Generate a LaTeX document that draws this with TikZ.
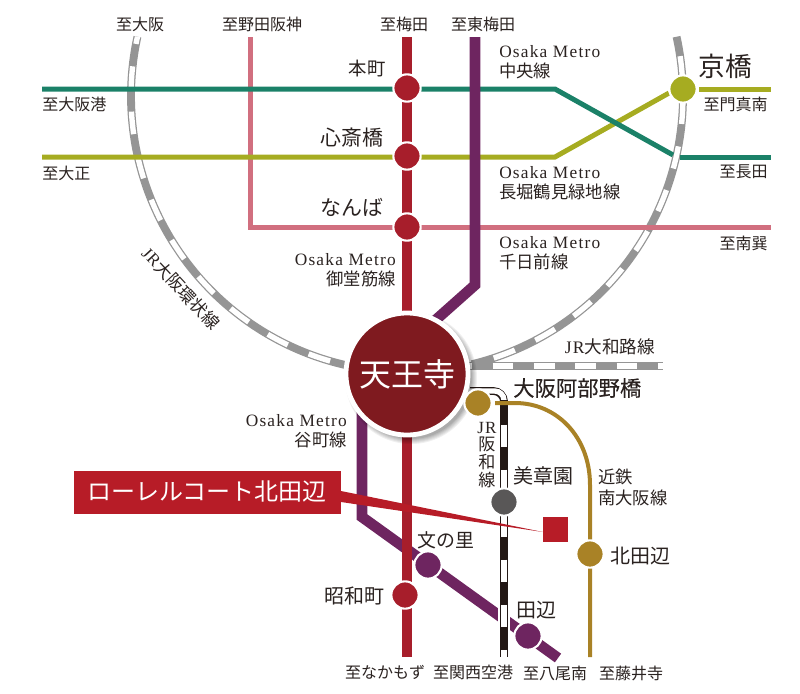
\documentclass[tikz,border=0pt]{standalone}
\usepackage{fontspec}
\setmainfont[LetterSpace=7]{Liberation Serif}
\newfontfamily\jp{Noto Sans CJK JP}
\newfontfamily\jpb[FakeBold=0.25]{Noto Sans CJK JP}
\definecolor{ink}{HTML}{2A2220}
\definecolor{midored}{HTML}{A71E2B}
\definecolor{purp}{HTML}{6E2560}
\definecolor{greenl}{HTML}{1B8168}
\definecolor{olive}{HTML}{A6AC21}
\definecolor{pinkl}{HTML}{D16F7F}
\definecolor{goldl}{HTML}{A98226}
\definecolor{jrgray}{HTML}{959595}
\definecolor{brick}{HTML}{B71C27}
\definecolor{tenno}{HTML}{7F1A1F}
\definecolor{grayst}{HTML}{595757}
\definecolor{rail}{HTML}{231815}
\tikzset{
  lbl/.style={inner sep=0pt,text=ink,font=\fontsize{12}{15.5}\selectfont\jp},
  met/.style={inner sep=0pt,text=ink,font=\fontsize{13}{15}\selectfont},
  stn/.style={inner sep=0pt,text=ink,font=\fontsize{15}{17}\selectfont\jp},
  sta/.style={circle,draw=white,line width=1.6pt,minimum size=20.5pt,inner sep=0pt},
  thick line/.style={line width=8pt},
  thin line/.style={line width=3.75pt},
}
\begin{document}
\begin{tikzpicture}[x=0.75pt,y=-0.75pt]
\useasboundingbox (0,0) rectangle (800,693);
% named free ends
\coordinate (gw) at (42,89);
\coordinate (gb) at (555,89);
\coordinate (ge) at (673,155);
\coordinate (gr) at (680,157);
\coordinate (gf) at (771,157);
\coordinate (ow) at (42,157);
\coordinate (ob) at (555,157);
\coordinate (oe) at (669,93);
\coordinate (or) at (699,89);
\coordinate (of) at (771,89);
\coordinate (pt) at (250,37);
\coordinate (pb) at (250,227);
\coordinate (pf) at (771,227);
\coordinate (rt) at (407,37);
\coordinate (rb) at (407,657);
\coordinate (ut) at (475,37);
\coordinate (ub) at (475,285);
\coordinate (ue) at (430,325);
\coordinate (lt) at (362,400);
\coordinate (lb) at (362,517);
\coordinate (le) at (558,658);
\coordinate (yw) at (462,366);
\coordinate (ye) at (663,366);
\coordinate (hs) at (470,391);
\coordinate (hc) at (504,391);
\coordinate (ht) at (504,402);
\coordinate (hb) at (504,657);
\coordinate (ks) at (495,403);
\coordinate (kb) at (590,657);
% JR loop
\foreach \a/\b/\p in {192.4/103/11.5,76.4/-12.4/17}{
  \draw[jrgray,line width=5.9pt] plot[domain=\a:\b,samples=120] ({407+276*cos(\x)},{96+276*sin(\x)});
  \draw[white,line width=4pt,dash pattern=on 17pt off 17pt,dash phase=\p pt] plot[domain=\a:\b,samples=120] ({407+276*cos(\x)},{96+276*sin(\x)});
}
% JR Yamatoji
\draw[jrgray,line width=5.8pt] (yw) -- (ye);
\draw[white,line width=3.8pt,dash pattern=on 15.5pt off 15.5pt,dash phase=8pt] (yw) -- (ye);
% pink, olive, green
\draw[pinkl,thin line,line join=miter] (pt) -- (pb) -- (pf);
\draw[olive,thin line] (ow) -- (ob) -- (oe);
\draw[olive,thin line] (or) -- (of);
\draw[greenl,thin line] (gw) -- (gb) -- (ge);
\draw[greenl,thin line] (gr) -- (gf);
% purple lines
\draw[purp,thick line] (ut) -- (ub) -- (ue);
\draw[purp,thick line] (lt) -- (lb) -- (le);
% red
\draw[midored,thick line] (rt) -- (rb);
% Hanwa
\draw[white,line width=8.5pt] (ht) -- (hb);
\draw[rail,line width=5.8pt] (ht) -- (hb);
\draw[white,line width=3.9pt,dash pattern=on 16.9pt off 16.9pt,dash phase=16.9pt] (ht) -- (hb);
\draw[rail,line width=5.8pt,rounded corners=8pt] (hs) -- (hc) -- (ht);
\draw[white,line width=4pt,rounded corners=7pt] (hs) -- (hc) -- (ht);
\draw[rail,line width=5.8pt] (504,400) -- (ht);
% Kintetsu
\draw[goldl,line width=3pt] (ks) -- (515,403) .. controls (557,403) and (590,437) .. (590,485) -- (kb);
% pointer
\fill[brick] (341,491) -- (543,532) -- (341,502) -- cycle;
\node[fill=brick,minimum width=200.25pt,minimum height=32.25pt,inner sep=0pt,anchor=north west] (prop) at (74,471) {};
\node[anchor=west,inner sep=0pt,text=white,font=\fontsize{18}{20}\selectfont\jp] (propt) at (87,491) {ローレルコート北田辺};
\node[fill=brick,minimum size=18.75pt,inner sep=0pt] (site) at (555.5,529.5) {};
% Tennoji
\foreach \r/\o in {6/0.06,5/0.06,4/0.06,3/0.06,2/0.07,1/0.08}{
  \fill[black,opacity=\o] (411,378) circle ({(60+\r)*0.75pt});
}
\node[circle,fill=tenno,draw=white,line width=3.6pt,minimum size=91.5pt,inner sep=0pt,text=white,font=\fontsize{24}{26}\selectfont\jp] (tennoji) at (407,374) {天王寺};
% stations
\node[sta,fill=midored] (hommachi) at (407,88) {};
\node[sta,fill=midored] (shinsai) at (407,156) {};
\node[sta,fill=midored] (namba) at (407,227) {};
\node[sta,fill=midored] (showa) at (405,595) {};
\node[sta,fill=olive] (kyobashi) at (683,89) {};
\node[sta,fill=goldl] (abeno) at (478,403) {};
\node[sta,fill=grayst] (bisho) at (504,502) {};
\node[sta,fill=goldl] (kitatanabe) at (590,554) {};
\node[sta,fill=purp] (fuminosato) at (428,565) {};
\node[sta,fill=purp] (tanabe) at (528,636) {};
% destination labels
\node[lbl] (d1) at (140,24) {至大阪};
\node[lbl] (d2) at (262,24) {至野田阪神};
\node[lbl] (d3) at (404,24) {至梅田};
\node[lbl] (d4) at (483,24) {至東梅田};
\node[lbl,anchor=west] (d5) at (42,104) {至大阪港};
\node[lbl,anchor=west] (d6) at (42,173) {至大正};
\node[lbl,anchor=east] (d7) at (768,104) {至門真南};
\node[lbl,anchor=east] (d8) at (768,172) {至長田};
\node[lbl,anchor=east] (d9) at (768,243) {至南巽};
\node[lbl] (d10) at (385,672) {至なかもず};
\node[lbl] (d11) at (473,672) {至関西空港};
\node[lbl] (d12) at (555,673) {至八尾南};
\node[lbl] (d13) at (631,673) {至藤井寺};
% line labels
\node[met,anchor=north west,align=left] (m1) at (499,45) {Osaka Metro\\{\jp 中央線}};
\node[met,anchor=north west,align=left] (m2) at (499,166) {Osaka Metro\\{\jp 長堀鶴見緑地線}};
\node[met,anchor=north west,align=left] (m3) at (499,236) {Osaka Metro\\{\jp 千日前線}};
\node[met,anchor=north east,align=right] (m4) at (396,253) {Osaka Metro\\{\jp 御堂筋線}};
\node[met,anchor=north east,align=right] (m5) at (347,414) {Osaka Metro\\{\jp 谷町線}};
\node[lbl,font=\fontsize{13.2}{15.5}\selectfont] (m6) at (610,347) {JR{\jp 大和路線}};
\node[lbl,anchor=north west,align=left,font=\fontsize{13}{15.4}\selectfont\jp] (m7) at (598,469) {近鉄\\南大阪線};
\node[inner sep=0pt,text=ink,align=center,font=\fontsize{12.8}{13.4}\selectfont] (m8) at (487,455) {JR\\{\jp 阪}\\{\jp 和}\\{\jp 線}};
\node[inner sep=0pt,text=ink,rotate=-47,font=\fontsize{12.8}{14}\selectfont] (m9) at (181,288) {JR{\jp 大阪環状線}};
% station labels
\node[stn,anchor=east,font=\fontsize{13.8}{16}\selectfont\jp] (s1) at (386,69) {本町};
\node[stn,anchor=east,font=\fontsize{15.7}{17}\selectfont\jp] (s2) at (384,138) {心斎橋};
\node[stn,anchor=east,font=\fontsize{15.7}{17}\selectfont\jp] (s3) at (384,207) {なんば};
\node[stn,font=\fontsize{20}{22}\selectfont\jp] (s4) at (725,66) {京橋};
\node[stn,font=\fontsize{16}{18}\selectfont\jpb,anchor=west] (s5) at (513,388) {大阪阿部野橋};
\node[stn] (s6) at (543,476) {美章園};
\node[stn] (s7) at (640,556) {北田辺};
\node[stn,font=\fontsize{14.2}{17}\selectfont\jp] (s8) at (446,540) {文の里};
\node[stn] (s9) at (354,596) {昭和町};
\node[stn] (s10) at (536,610) {田辺};
\end{tikzpicture}
\end{document}
